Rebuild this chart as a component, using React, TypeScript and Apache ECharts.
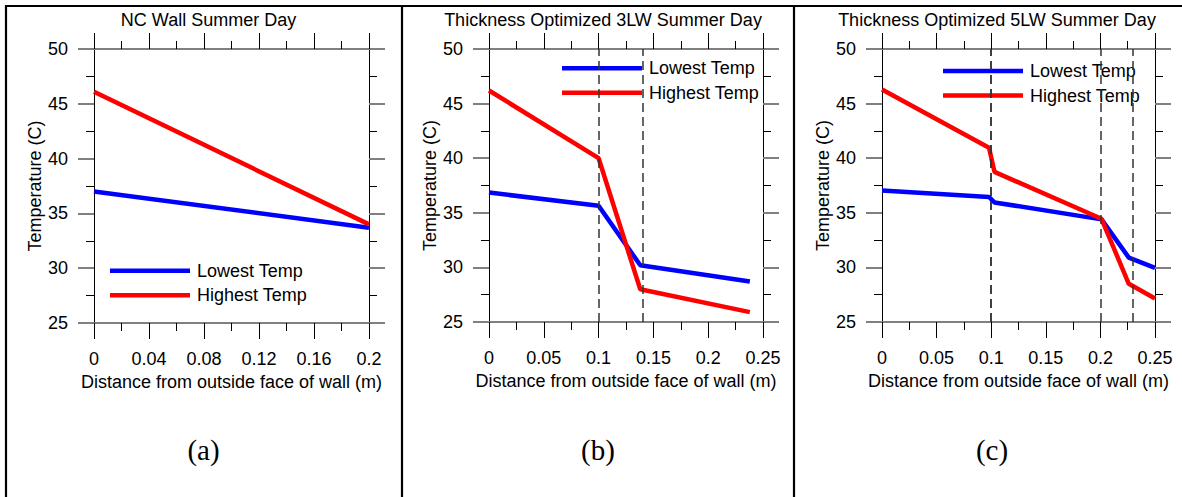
import React, { useEffect, useRef } from "react";
import * as echarts from "echarts";

// ---- Data ----
const panelTitles = [
  "NC Wall Summer Day",
  "Thickness Optimized 3LW Summer Day",
  "Thickness Optimized 5LW Summer Day",
];
const panelLetters = ["(a)", "(b)", "(c)"];
const legendLabels = ["Lowest Temp", "Highest Temp"];
const xAxisName = "Distance from outside face of wall (m)";
const yAxisName = "Temperature (C)";
const yMin = 25;
const yMax = 50;
const yInterval = 5;
const xMaxes = [0.2, 0.25, 0.25];
const xIntervals = [0.04, 0.05, 0.05];

const ncDistance = [0, 0.2];
const ncLowest = [37.0, 33.7];
const ncHighest = [46.1, 34.0];
const ncBoundaries: number[] = [];

const lw3Distance = [0, 0.1, 0.138, 0.238];
const lw3Lowest = [36.85, 35.65, 30.2, 28.7];
const lw3Highest = [46.2, 40.0, 28.0, 25.9];
const lw3Boundaries = [0.1, 0.138];

const lw5Distance = [0, 0.098, 0.103, 0.201, 0.226, 0.25];
const lw5Lowest = [37.05, 36.45, 35.95, 34.4, 30.9, 29.95];
const lw5Highest = [46.3, 40.95, 38.75, 34.45, 28.5, 27.15];
const lw5Boundaries = [0.098, 0.103, 0.201, 0.226];

const panels = [
  { distance: ncDistance, lowest: ncLowest, highest: ncHighest, boundaries: ncBoundaries },
  { distance: lw3Distance, lowest: lw3Lowest, highest: lw3Highest, boundaries: lw3Boundaries },
  { distance: lw5Distance, lowest: lw5Lowest, highest: lw5Highest, boundaries: lw5Boundaries },
];

// ---- Layout ----
const FONT = "'Liberation Sans', Arial, sans-serif";
const grids = [
  { left: 94, top: 49, width: 275, height: 274 },
  { left: 489, top: 49, width: 274, height: 273 },
  { left: 882, top: 49, width: 273, height: 273 },
];
const panelCenters = [203.5, 598, 992];
const legendPos = [
  { x: 110, y: 270.7 },
  { x: 562, y: 68.3 },
  { x: 943, y: 71 },
];
const BLUE = "#0000ff";
const RED = "#ff0000";
const GRAYLINE = "#808080";

function buildAxes(i: number) {
  const baseX = () => ({
    type: "value",
    gridIndex: i,
    min: 0,
    max: xMaxes[i],
    interval: xIntervals[i],
    axisLine: { show: true, onZero: false, lineStyle: { color: GRAYLINE, width: 2 } },
    axisTick: { show: true, length: 16, lineStyle: { color: "#000", width: 1 } },
    minorTick: { show: true, splitNumber: 2, length: 8, lineStyle: { color: "#000", width: 1 } },
    splitLine: { show: false },
  });
  const baseY = () => ({
    type: "value",
    gridIndex: i,
    min: yMin,
    max: yMax,
    interval: yInterval,
    axisLine: { show: true, onZero: false, lineStyle: { color: "#000", width: 1 } },
    axisTick: { show: true, length: 16, lineStyle: { color: GRAYLINE, width: 2 } },
    minorTick: { show: true, splitNumber: 2, length: 8, lineStyle: { color: "#000", width: 1 } },
    splitLine: { show: false },
  });
  return {
    x: [
      {
        ...baseX(),
        position: "bottom",
        axisLabel: { margin: 27, fontSize: 18, color: "#000", fontFamily: FONT },
        name: xAxisName,
        nameLocation: "middle",
        nameGap: 48,
        nameTextStyle: { fontSize: 18, color: "#000", fontFamily: FONT },
      },
      { ...baseX(), position: "top", axisLabel: { show: false } },
    ],
    y: [
      {
        ...baseY(),
        position: "left",
        axisLabel: { margin: 26, fontSize: 18, color: "#000", fontFamily: FONT },
        name: yAxisName,
        nameLocation: "middle",
        nameGap: 50,
        nameRotate: 90,
        nameTextStyle: { fontSize: 18, color: "#000", fontFamily: FONT },
      },
      { ...baseY(), position: "right", axisLabel: { show: false } },
    ],
  };
}

function buildOption() {
  const xAxes: any[] = [];
  const yAxes: any[] = [];
  const series: any[] = [];
  const titles: any[] = [];
  const graphics: any[] = [];

  panels.forEach((p, i) => {
    const ax = buildAxes(i);
    xAxes.push(...ax.x);
    yAxes.push(...ax.y);

    const lowData = p.distance.map((d, k) => [d, p.lowest[k]]);
    const highData = p.distance.map((d, k) => [d, p.highest[k]]);

    const low: any = {
      type: "line",
      xAxisIndex: 2 * i,
      yAxisIndex: 2 * i,
      data: lowData,
      symbol: "none",
      lineStyle: { color: BLUE, width: 4.5 },
      itemStyle: { color: BLUE },
    };
    if (p.boundaries.length > 0) {
      low.markLine = {
        silent: true,
        symbol: ["none", "none"],
        label: { show: false },
        lineStyle: { type: [9, 5], color: "#333", width: 1.5 },
        data: p.boundaries.map((b) => ({ xAxis: b })),
      };
    }
    series.push(low);
    series.push({
      type: "line",
      xAxisIndex: 2 * i,
      yAxisIndex: 2 * i,
      data: highData,
      symbol: "none",
      lineStyle: { color: RED, width: 4.5 },
      itemStyle: { color: RED },
    });

    titles.push({
      text: panelTitles[i],
      left: panelCenters[i],
      textAlign: "center",
      top: 6,
      textStyle: { fontSize: 18, fontWeight: "normal", color: "#000", fontFamily: FONT },
    });

    const lp = legendPos[i];
    [BLUE, RED].forEach((c, k) => {
      const y = lp.y + k * 24.5;
      graphics.push({
        type: "line",
        shape: { x1: lp.x, y1: y, x2: lp.x + 80, y2: y },
        style: { stroke: c, lineWidth: 4.5 },
      });
      graphics.push({
        type: "text",
        x: lp.x + 87,
        y: y,
        style: {
          text: legendLabels[k],
          fill: "#000",
          fontSize: 18,
          fontFamily: FONT,
          align: "left",
          verticalAlign: "middle",
        },
      });
    });

    graphics.push({
      type: "text",
      x: panelCenters[i],
      y: 450,
      style: {
        text: panelLetters[i],
        fill: "#000",
        fontSize: 29,
        fontFamily: "'Liberation Serif', 'Times New Roman', serif",
        align: "center",
        verticalAlign: "middle",
      },
    });
  });

  const frame = [
    [5, 6, 1182, 6],
    [6, 5, 6, 497],
    [402, 5, 402, 497],
    [794, 5, 794, 497],
  ];
  frame.forEach(([x1, y1, x2, y2]) => {
    graphics.push({
      type: "line",
      shape: { x1, y1, x2, y2 },
      style: { stroke: "#000", lineWidth: 2.2 },
    });
  });

  return {
    animation: false,
    title: titles,
    grid: grids,
    xAxis: xAxes,
    yAxis: yAxes,
    series,
    graphic: graphics,
  };
}

export default function App() {
  const ref = useRef<HTMLDivElement>(null);
  useEffect(() => {
    if (!ref.current) return;
    const chart = echarts.init(ref.current, undefined, { renderer: "svg" });
    chart.setOption(buildOption() as any);
    return () => chart.dispose();
  }, []);
  return (
    <div
      ref={ref}
      style={{ position: "fixed", left: 0, top: 0, width: 1182, height: 497, background: "#fff" }}
    />
  );
}
